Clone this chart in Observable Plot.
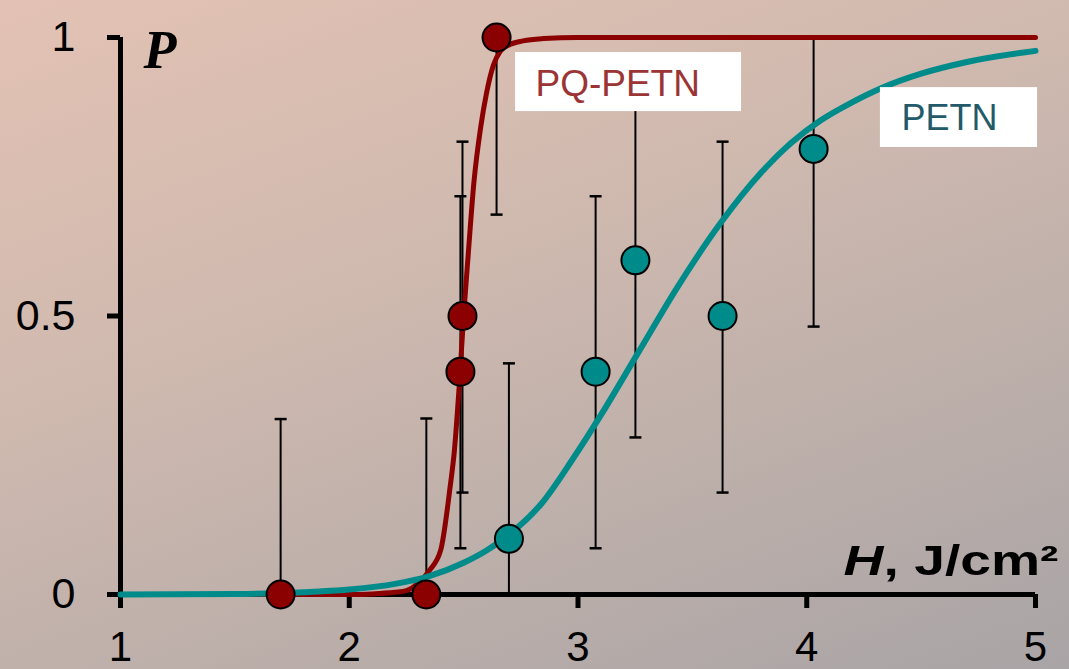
<!DOCTYPE html>
<html><head><meta charset="utf-8">
<script src="https://cdn.jsdelivr.net/npm/d3@7"></script>
<script src="https://cdn.jsdelivr.net/npm/@observablehq/plot@0.6"></script>
<style>
html,body{margin:0;padding:0;}
</style>
</head><body><div id="chart"></div>
<script>
// ---- data ----
const seriesNames = ["PQ-PETN", "PETN"];
const xTicks = [1, 2, 3, 4, 5];
const yTicks = [0, 0.5, 1];
const yTickLabels = ["0", "0.5", "1"];

// PQ-PETN measured points
const pqH  = [1.70, 2.337, 2.486, 2.495, 2.644];
const pqP  = [0, 0, 0.4, 0.5, 1.0];
const pqLo = [0, 0, 0.083, 0.183, 0.682];
const pqHi = [0.315, 0.316, 0.715, 0.813, 1.0];

// PETN measured points
const petnH  = [2.698, 3.077, 3.251, 3.632, 4.03];
const petnP  = [0.1, 0.4, 0.6, 0.5, 0.8];
const petnLo = [0, 0.083, 0.282, 0.183, 0.481];
const petnHi = [0.415, 0.715, 0.92, 0.813, 1.0];

// fitted curves
const pqCurveH = [1.0, 1.8, 2.0, 2.1, 2.2, 2.25, 2.30, 2.35, 2.40, 2.44, 2.46, 2.48, 2.50, 2.52, 2.545, 2.575, 2.60, 2.63, 2.66, 2.70, 2.76, 2.85, 3.0, 4.0, 5.0];
const pqCurveP = [0, 0, 0, 0.001, 0.004, 0.007, 0.02, 0.043, 0.08, 0.19, 0.26, 0.37, 0.50, 0.61, 0.74, 0.84, 0.90, 0.95, 0.975, 0.987, 0.994, 0.998, 1, 1, 1];

const petnCurveH = [1.0, 1.5, 1.8, 2.0, 2.2, 2.35, 2.5, 2.6, 2.7, 2.84, 2.98, 3.1, 3.26, 3.435, 3.62, 3.8, 3.93, 4.06, 4.2, 4.32, 4.5, 4.7, 5.0];
const petnCurveP = [0, 0.001, 0.004, 0.009, 0.019, 0.033, 0.057, 0.079, 0.108, 0.163, 0.245, 0.322, 0.432, 0.552, 0.665, 0.757, 0.81, 0.851, 0.884, 0.908, 0.935, 0.956, 0.976];

// ---- tables ----
const pq = pqH.map((h, i) => ({h, p: pqP[i], lo: pqLo[i], hi: pqHi[i]}));
const petn = petnH.map((h, i) => ({h, p: petnP[i], lo: petnLo[i], hi: petnHi[i]}));
const pqCurve = pqCurveH.map((h, i) => ({h, p: pqCurveP[i]}));
const petnCurve = petnCurveH.map((h, i) => ({h, p: petnCurveP[i]}));
const allPts = pq.concat(petn);

const RED = "#8B0000", TEAL = "#008B8B";
const capSymbol = {draw(ctx, size) { const w = Math.sqrt(size / Math.PI); ctx.moveTo(-w, 0); ctx.lineTo(w, 0); }};
const xLabel = "H, J/cm\u00B2";

const chart = Plot.plot({
  width: 1069,
  height: 669,
  marginLeft: 120,
  marginRight: 34,
  marginTop: 37,
  marginBottom: 75,
  x: {domain: [1, 5]},
  y: {domain: [0, 1]},
  style: {
    background: "linear-gradient(160deg, #e3c2b4 0%, #cfb9af 40%, #b9ada9 75%, #a9a4a6 100%)",
    color: "black",
    fontFamily: "'Liberation Sans', Arial, sans-serif"
  },
  marks: [
    // axes
    Plot.axisX({ticks: xTicks, tickSize: 14, tickPadding: 23, fontSize: 42, strokeWidth: 5, tickFormat: d => String(d), label: null}),
    Plot.axisY({ticks: yTicks, tickSize: 13, tickPadding: 32, fontSize: 43, strokeWidth: 5, tickFormat: d => yTickLabels[yTicks.indexOf(d)], label: null}),
    Plot.ruleY([0], {x1: 1, x2: 5, strokeWidth: 5}),
    Plot.ruleX([1], {y1: 0, y2: 1, strokeWidth: 5}),
    // error bars
    Plot.ruleX(allPts, {x: "h", y1: "lo", y2: "hi", stroke: "black", strokeWidth: 2}),
    Plot.dot(allPts, {x: "h", y: "hi", symbol: capSymbol, r: 6, stroke: "black", strokeWidth: 2.5, fill: "none"}),
    Plot.dot(allPts, {x: "h", y: "lo", symbol: capSymbol, r: 6, stroke: "black", strokeWidth: 2.5, fill: "none"}),
    // curves
    Plot.line(pqCurve, {x: "h", y: "p", stroke: RED, strokeWidth: 5, curve: "monotone-x"}),
    Plot.line(petnCurve, {x: "h", y: "p", stroke: TEAL, strokeWidth: 6, curve: "monotone-x"}),
    // labels
    Plot.rect([seriesNames[0]], {x1: 2.727, x2: 3.715, y1: 0.867, y2: 0.973, fill: "white"}),
    Plot.text([seriesNames[0]], {x: 2.814, y: 0.917, text: d => d, textAnchor: "start", fill: "#9B3535", fontSize: 37}),
    Plot.rect([seriesNames[1]], {x1: 4.322, x2: 5.009, y1: 0.8025, y2: 0.910, fill: "white"}),
    Plot.text([seriesNames[1]], {x: 4.414, y: 0.855, text: d => d, textAnchor: "start", fill: "#235A69", fontSize: 36}),
    // dots
    Plot.dot(pq, {x: "h", y: "p", r: 14, fill: RED, stroke: "black", strokeWidth: 2}),
    Plot.dot(petn, {x: "h", y: "p", r: 14, fill: TEAL, stroke: "black", strokeWidth: 2}),
    // axis titles
    Plot.text(["P"], {x: 1, y: 1, text: d => d, dx: 23, dy: 30, textAnchor: "start", lineAnchor: "bottom", fontSize: 54, fontFamily: "'Liberation Serif', 'Times New Roman', serif", fontWeight: "bold", fontStyle: "italic"}),
    Plot.text([xLabel], {x: 5, y: 0, text: d => d, dx: 23, dy: -20, textAnchor: "end", lineAnchor: "bottom", fontSize: 42, fontWeight: "bold"})
  ]
});

// rich text for the x-axis title: italic H
d3.select(chart).selectAll("text").each(function() {
  if (this.textContent === xLabel) {
    const t = d3.select(this);
    t.text(null);
    t.append("tspan").attr("font-style", "italic").text("H");
    t.append("tspan").text(", J/cm\u00B2");
    t.attr("textLength", 215).attr("lengthAdjust", "spacingAndGlyphs");
  }
});

document.getElementById("chart").appendChild(chart);
</script>
</body></html>
